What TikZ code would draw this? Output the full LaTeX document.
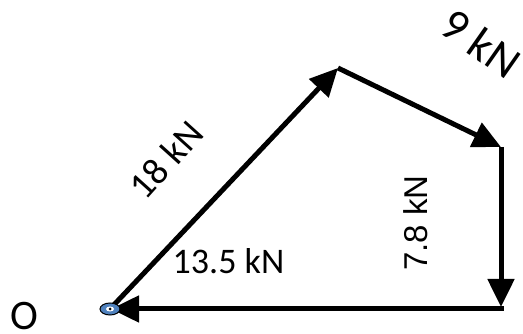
\documentclass[tikz,border=0pt]{standalone}
\usepackage{fontspec}
\setmainfont{Carlito}
\newfontfamily\arialf{Liberation Sans}
\usetikzlibrary{arrows.meta,shapes.geometric}
\definecolor{pinblue}{RGB}{79,129,189}
\begin{document}
\begin{tikzpicture}[x=1pt,y=-1pt,
  force/.style={line width=5pt,-{Triangle[length=28pt,width=26pt]}},
  lbl/.style={inner sep=0pt,font=\fontsize{36}{40}\selectfont}]
\useasboundingbox (0,0) rectangle (523,334);
\coordinate (O) at (110,309);
\coordinate (A) at (338,68);
\coordinate (B) at (501,147);
\coordinate (Bt) at (501,147);
\coordinate (C) at (501,307);
\coordinate (Cb) at (503.5,309);
\coordinate (Ot) at (111,309);
\draw[force] (O) -- (A);
\draw[force] (A) -- (B);
\draw[force] (Bt) -- (C);
\draw[force] (Cb) -- (Ot);
\node[draw=black,line width=1pt,fill=pinblue,ellipse,minimum width=20pt,minimum height=12pt,inner sep=0pt] (pin) at (O) {};
\node[fill=white,ellipse,minimum width=8pt,minimum height=5pt,inner sep=0pt] (pinin) at (O) {};
\node[fill=black,circle,minimum size=3pt,inner sep=0pt] (pindot) at (O) {};
\node[lbl,anchor=base] (l135) at (228.5,274) {13.5 kN};
\node[lbl,rotate=48,font=\fontsize{38}{42}\selectfont] (l18) at (166,160) {18 kN};
\node[lbl,rotate=-35,font=\fontsize{46}{50}\selectfont] (l9) at (481,43) {9 kN};
\node[lbl,rotate=90,font=\arialf\fontsize{33}{36}\selectfont] (l78) at (416,223) {7.8 kN};
\node[lbl,font=\fontsize{42}{46}\selectfont] (lO) at (24,316) {O};
\end{tikzpicture}
\end{document}
